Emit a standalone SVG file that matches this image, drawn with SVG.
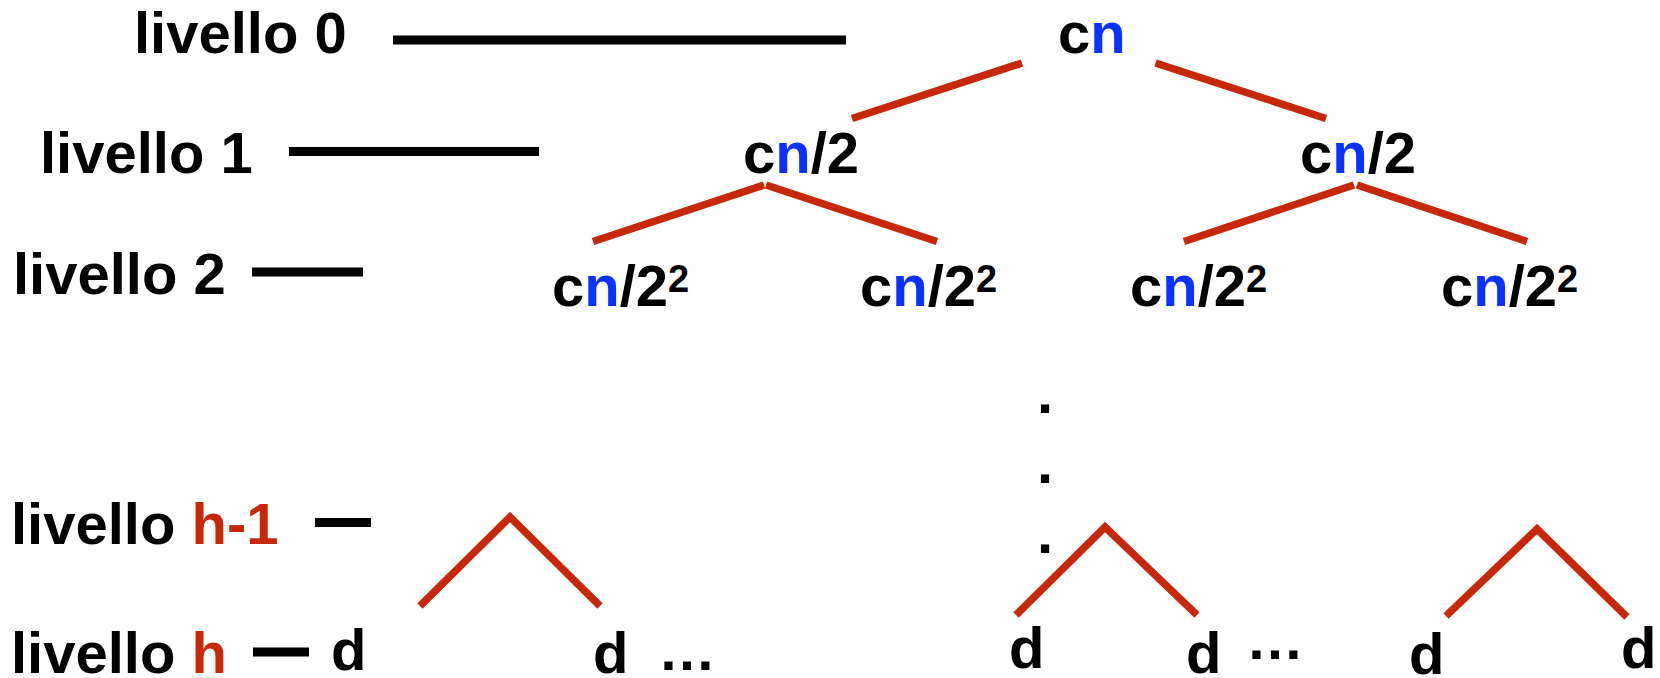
<svg xmlns="http://www.w3.org/2000/svg" width="1660" height="678" viewBox="0 0 1660 678">
<style>
text{font-family:"Liberation Sans",Arial,sans-serif;font-weight:bold;font-size:58px;fill:#000}
.b{fill:#0a32ff}
.r{fill:#c8280a}
.sup{font-size:38px}
.lvl{stroke:#000;stroke-width:9;fill:none}
.edge{stroke:#c8280a;stroke-width:7.5;fill:none}
</style>
<rect width="1660" height="678" fill="#fff"/>
<g id="levels">
<text x="134" y="53">livello 0</text>
<text x="40" y="173">livello 1</text>
<text x="13" y="294">livello 2</text>
<text x="11" y="544">livello <tspan class="r">h-1</tspan></text>
<text x="11" y="673">livello <tspan class="r">h</tspan></text>
</g>
<g id="level-lines">
<line class="lvl" x1="393" y1="40" x2="846" y2="40"/>
<line class="lvl" x1="289" y1="151.5" x2="539" y2="151.5"/>
<line class="lvl" x1="252" y1="272" x2="363" y2="272"/>
<line class="lvl" x1="315" y1="522.5" x2="371" y2="522.5"/>
<line class="lvl" x1="253" y1="652" x2="309" y2="652"/>
</g>
<g id="connectors">
<line class="edge" x1="1022" y1="63" x2="852" y2="118.5"/>
<line class="edge" x1="1155.5" y1="63" x2="1326" y2="118.5"/>
<line class="edge" x1="764" y1="185" x2="593" y2="241.5"/>
<line class="edge" x1="766" y1="185" x2="937" y2="241.5"/>
<line class="edge" x1="1354" y1="185" x2="1184" y2="241.5"/>
<line class="edge" x1="1357" y1="185" x2="1527" y2="241.5"/>
<polyline class="edge" points="420,606 510,517 600,606"/>
<polyline class="edge" points="1016,615 1105,527 1197,615"/>
<polyline class="edge" points="1446,616 1537,529 1627,617"/>
</g>
<g id="n0"><text x="1058" y="53">c<tspan class="b">n</tspan></text></g>
<g id="n1a"><text x="743" y="173">c<tspan class="b">n</tspan>/2</text></g>
<g id="n1b"><text x="1300" y="173">c<tspan class="b">n</tspan>/2</text></g>
<g id="n2a"><text x="552" y="306">c<tspan class="b">n</tspan>/2<tspan class="sup" dy="-14">2</tspan></text></g>
<g id="n2b"><text x="860" y="306">c<tspan class="b">n</tspan>/2<tspan class="sup" dy="-14">2</tspan></text></g>
<g id="n2c"><text x="1130" y="306">c<tspan class="b">n</tspan>/2<tspan class="sup" dy="-14">2</tspan></text></g>
<g id="n2d"><text x="1441" y="306">c<tspan class="b">n</tspan>/2<tspan class="sup" dy="-14">2</tspan></text></g>
<g id="vdots">
<text x="1037" y="413">.</text>
<text x="1037" y="483">.</text>
<text x="1037" y="553">.</text>
</g>
<g id="leaves">
<text x="331" y="670">d</text>
<text x="593" y="673">d</text>
<text x="658" y="670">…</text>
<text x="1009" y="668">d</text>
<text x="1186" y="673">d</text>
<text x="1246" y="659">…</text>
<text x="1409" y="674">d</text>
<text x="1621" y="668">d</text>
</g>
</svg>
